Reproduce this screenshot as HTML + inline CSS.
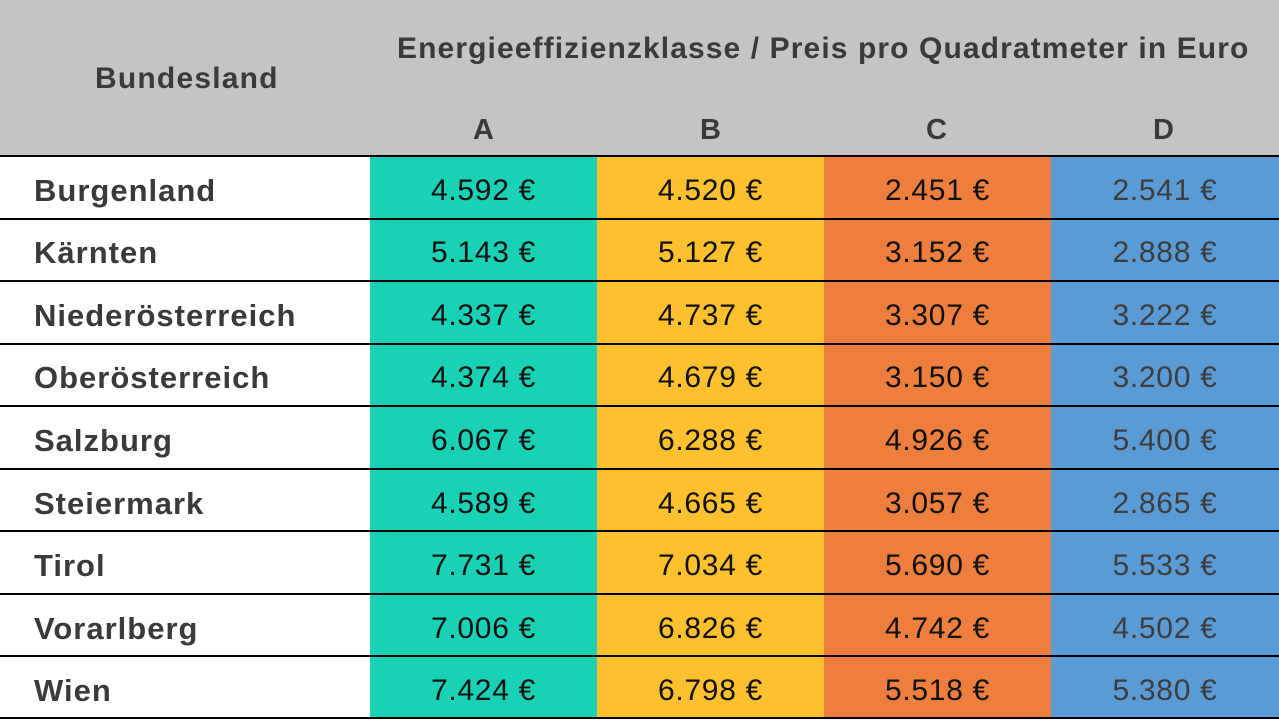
<!DOCTYPE html>
<html><head><meta charset="utf-8"><style>
body{margin:0;width:1279px;height:720px;background:#fff;font-family:"Liberation Sans",sans-serif;overflow:hidden;position:relative}
.hdr{position:absolute;left:0;top:0;width:1279px;height:156px;background:#c4c4c4}
.t{position:absolute;color:#3a3a3a;font-weight:bold;white-space:nowrap}
.c{position:absolute;display:flex;align-items:center;justify-content:center;font-size:30px;color:#111;letter-spacing:0.7px;box-sizing:border-box;padding-top:7px}
.l{position:absolute;left:34px;display:flex;align-items:center;font-size:31px;font-weight:bold;color:#3a3a3a;letter-spacing:1px;box-sizing:border-box;padding-top:7px;white-space:nowrap}
.line{position:absolute;left:0;width:1279px;height:2px;background:#000}
</style></head><body>
<div class="hdr"></div>
<div class="t" style="left:95px;top:62px;font-size:30px;letter-spacing:1.2px">Bundesland</div>
<div class="t" style="left:397px;top:32px;font-size:30px;letter-spacing:1.1px">Energieeffizienzklasse / Preis pro Quadratmeter in Euro</div>
<div class="t" style="left:473px;top:114px;font-size:29px">A</div>
<div class="t" style="left:700px;top:114px;font-size:29px">B</div>
<div class="t" style="left:926px;top:114px;font-size:29px">C</div>
<div class="t" style="left:1153px;top:114px;font-size:29px">D</div>
<div id="rows"></div>
<script>
var d=[["Burgenland","4.592","4.520","2.451","2.541"],["Kärnten","5.143","5.127","3.152","2.888"],["Niederösterreich","4.337","4.737","3.307","3.222"],["Oberösterreich","4.374","4.679","3.150","3.200"],["Salzburg","6.067","6.288","4.926","5.400"],["Steiermark","4.589","4.665","3.057","2.865"],["Tirol","7.731","7.034","5.690","5.533"],["Vorarlberg","7.006","6.826","4.742","4.502"],["Wien","7.424","6.798","5.518","5.380"]];
var cols=[[370,227,"#19d1b5","#111"],[597,227,"#fdc02e","#111"],[824,227,"#ed7e3d","#111"],[1051,228,"#5b9bd5","#3d3d3d"]];
var h="";var top0=156,rh=(719-156)/9;
d.forEach(function(r,i){var y=top0+i*rh;
h+='<div class="l" style="top:'+y+'px;height:'+rh+'px">'+r[0]+'</div>';
cols.forEach(function(c,j){h+='<div class="c" style="left:'+c[0]+'px;width:'+c[1]+'px;top:'+y+'px;height:'+rh+'px;background:'+c[2]+';color:'+c[3]+'">'+r[j+1]+' €</div>';});
h+='<div class="line" style="top:'+(y-1)+'px"></div>';});
h+='<div class="line" style="top:717px"></div>';
document.getElementById("rows").innerHTML=h;
</script>
</body></html>
